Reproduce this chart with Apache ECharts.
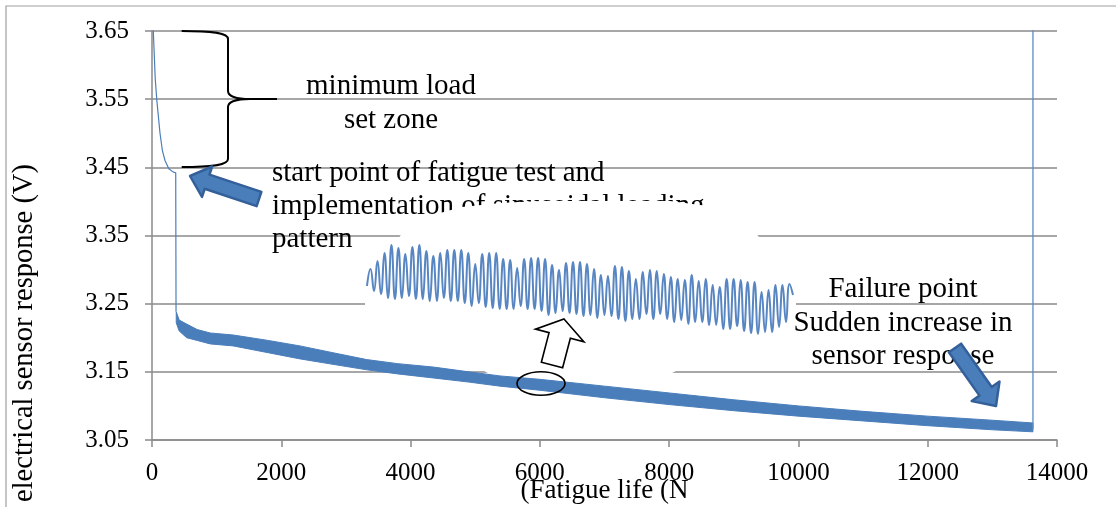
<!DOCTYPE html>
<html><head><meta charset="utf-8">
<script src="https://cdn.jsdelivr.net/npm/echarts@6/dist/echarts.min.js"></script>
<style>html,body{margin:0;padding:0;background:#fff}#c{width:1116px;height:507px}</style>
</head><body><div id="c"></div>
<script>
// ---------- data ----------
// initial settling curve (minimum load set zone), fatigue life (N) vs response (V)
const decayX = [5, 20, 50, 75, 124, 160, 201, 260, 330, 367, 372];
const decayY = [3.75, 3.65, 3.58, 3.548, 3.50, 3.475, 3.46, 3.448, 3.443, 3.442, 3.238];
// sinusoidal loading band: upper / lower envelope of the oscillating signal
const bandX      = [375, 420, 537, 700, 900, 1258, 1800, 2290, 2800, 3321, 3800, 4352, 4900, 5383, 6000, 7000, 8000, 9000, 10000, 11000, 12000, 13000, 13628];
const bandTop    = [3.238, 3.226, 3.220, 3.212, 3.207, 3.204, 3.196, 3.188, 3.178, 3.168, 3.162, 3.157, 3.150, 3.144, 3.139, 3.129, 3.119, 3.109, 3.100, 3.092, 3.085, 3.079, 3.075];
const bandBottom = [3.222, 3.210, 3.200, 3.196, 3.191, 3.188, 3.178, 3.169, 3.161, 3.153, 3.147, 3.141, 3.135, 3.129, 3.123, 3.112, 3.102, 3.093, 3.085, 3.078, 3.071, 3.065, 3.062];
// failure point: sudden increase in sensor response
const failureX = [13628, 13628];
const failureY = [3.066, 3.70];
// zoomed inset of the sinusoidal signal (relative units, peaks and troughs)
const insetSignal = [
  54, 71, 49, 79, 46, 87, 42, 95, 41, 92, 42, 86, 44, 93, 41, 95, 41, 89, 39, 84, 39,
  87, 42, 90, 39, 90, 39, 90, 37, 87, 34, 76, 37, 86, 33, 87, 32, 87, 31, 81, 31,
  80, 31, 72, 34, 81, 31, 82, 31, 82, 29, 81, 25, 75, 27, 70, 29, 77, 27, 78, 26,
  78, 24, 76, 25, 71, 22, 65, 25, 64, 24, 74, 21, 73, 19, 69, 21, 61, 21, 68,
  26, 70, 21, 69, 26, 66, 21, 63, 18, 61, 20, 60, 16, 65, 18, 59, 18, 61, 15, 55,
  15, 53, 11, 61, 11, 61, 14, 60, 9, 58, 7, 58, 6, 48, 8, 50, 8, 55, 13, 55, 18, 56, 45
];
const xAxisTitle = '(Fatigue life (N';
const yAxisTitle = 'electrical sensor response (V)';

// ---------- chart ----------
const FONT = "'Liberation Serif', 'Times New Roman', serif";
const BLUE = '#4A7EBB';
const GRAY = '#8a8a8a';

function blockArrow(tip, tail, headLen, headW, shaftW) {
  const dx = tip[0] - tail[0], dy = tip[1] - tail[1];
  const L = Math.hypot(dx, dy), ux = dx / L, uy = dy / L, nx = -uy, ny = ux;
  const bx = tip[0] - ux * headLen, by = tip[1] - uy * headLen;
  return [tip,
    [bx + nx * headW / 2, by + ny * headW / 2],
    [bx + nx * shaftW / 2, by + ny * shaftW / 2],
    [tail[0] + nx * shaftW / 2, tail[1] + ny * shaftW / 2],
    [tail[0] - nx * shaftW / 2, tail[1] - ny * shaftW / 2],
    [bx - nx * shaftW / 2, by - ny * shaftW / 2],
    [bx - nx * headW / 2, by - ny * headW / 2]];
}
function txt(text, x, y, align, z) {
  return { type: 'text', x: x, y: y, z: z || 1, silent: true,
    style: { text: text, fontSize: 29, fontFamily: FONT, fill: '#000', align: align, verticalAlign: 'middle' } };
}
const braceStyle = { fill: null, stroke: '#000', lineWidth: 2 };
function bez(x1, y1, c1x, c1y, c2x, c2y, x2, y2) {
  return { type: 'bezierCurve', z: 6, silent: true,
    shape: { x1: x1, y1: y1, cpx1: c1x, cpy1: c1y, cpx2: c2x, cpy2: c2y, x2: x2, y2: y2 }, style: braceStyle };
}
function seg(x1, y1, x2, y2) {
  return { type: 'line', z: 6, silent: true, shape: { x1: x1, y1: y1, x2: x2, y2: y2 }, style: braceStyle };
}

const chart = echarts.init(document.getElementById('c'), null, { renderer: 'canvas' });
const zip = (a, b) => a.map((v, i) => [v, b[i]]);

chart.setOption({
  animation: false,
  backgroundColor: '#fff',
  grid: [
    { left: 152, right: 59, top: 31, bottom: 67, outerBoundsMode: 'none' },
    { left: 367, top: 236, width: 426, height: 104, show: false, outerBoundsMode: 'none' }
  ],
  xAxis: [{
    type: 'value', gridIndex: 0, min: 0, max: 14000, interval: 2000,
    name: xAxisTitle, nameLocation: 'middle', nameGap: 37, nameMoveOverlap: false,
    nameTextStyle: { fontSize: 27, fontFamily: FONT, color: '#000' },
    axisLine: { show: true, lineStyle: { color: GRAY, width: 1.5 } },
    axisTick: { show: true, length: 7, lineStyle: { color: GRAY, width: 1.5 } },
    axisLabel: { margin: 21, fontSize: 25, fontFamily: FONT, color: '#000', formatter: v => String(v) },
    splitLine: { show: false }
  }, {
    type: 'category', gridIndex: 1, show: false, boundaryGap: false,
    data: insetSignal.map((_, i) => i)
  }],
  yAxis: [{
    type: 'value', gridIndex: 0, min: 3.05, max: 3.65, interval: 0.1,
    axisLine: { show: true, lineStyle: { color: GRAY, width: 1.5 } },
    axisTick: { show: true, length: 7, lineStyle: { color: GRAY, width: 1.5 } },
    axisLabel: { margin: 23, fontSize: 25, fontFamily: FONT, color: '#000', formatter: v => v.toFixed(2) },
    splitLine: { show: true, lineStyle: { color: GRAY, width: 1.5 } }
  }, {
    type: 'value', gridIndex: 1, show: false, min: 0, max: 104
  }],
  series: [
    { type: 'line', name: 'settling', xAxisIndex: 0, yAxisIndex: 0, z: 4, data: zip(decayX, decayY),
      showSymbol: false, symbol: 'none', lineStyle: { color: BLUE, width: 1.2 } },
    { type: 'custom', name: 'band', xAxisIndex: 0, yAxisIndex: 0, z: 4, data: [[bandX[0], bandTop[0]]],
      renderItem: function (params, api) {
        const up = bandX.map((x, i) => api.coord([x, bandTop[i]]));
        const lo = bandX.map((x, i) => api.coord([x, bandBottom[i]])).reverse();
        return { type: 'polygon', shape: { points: up.concat(lo) },
          style: { fill: BLUE, stroke: BLUE, lineWidth: 1 } };
      } },
    { type: 'line', name: 'failure', xAxisIndex: 0, yAxisIndex: 0, z: 4, data: zip(failureX, failureY),
      symbol: 'none', lineStyle: { color: '#5B8BCB', width: 1.3 } },
    { type: 'line', name: 'inset', xAxisIndex: 1, yAxisIndex: 1, z: 5, data: insetSignal,
      symbol: 'none', smooth: 0.5, lineStyle: { color: '#4F7FBF', width: 2, opacity: 0.95 } }
  ],
  graphic: { elements: [
    // outer frame
    { type: 'rect', z: 0, silent: true, shape: { x: 6, y: 6, width: 1300, height: 700 },
      style: { fill: null, stroke: '#a0a0a0', lineWidth: 1.2 } },
    // y axis title
    { type: 'text', x: 25, y: 333, rotation: Math.PI / 2, z: 1, silent: true,
      style: { text: yAxisTitle, fontSize: 28.5, fontFamily: FONT, fill: '#000', align: 'center', verticalAlign: 'middle' } },
    // brace
    bez(181.7, 31, 214, 31, 228, 33, 228, 39),
    seg(228, 39, 228, 91),
    bez(228, 91, 228, 96, 236, 99, 250, 99),
    seg(250, 99, 277, 99),
    bez(250, 99, 236, 99, 228, 102, 228, 107),
    seg(228, 107, 228, 159),
    bez(228, 159, 228, 165, 214, 167, 181.7, 167),
    txt('minimum load', 391, 86, 'center'),
    txt('set zone', 391, 120, 'center'),
    txt('start point of fatigue test and', 272, 173, 'left'),
    txt('implementation of sinusoidal loading', 272, 206, 'left'),
    txt('pattern', 272, 239, 'left'),
    txt('Failure point', 903, 289, 'center'),
    txt('Sudden increase in', 903, 323, 'center'),
    txt('sensor response', 903, 356, 'center'),
    // white background of the zoomed inset
    { type: 'polygon', z: 3, silent: true,
      shape: { points: [[462, 207], [500, 203], [540, 201], [670, 201], [700, 205], [720, 207], [755, 232], [796, 285], [796, 310], [672, 373], [488, 373], [365, 308], [365, 285], [403, 232], [440, 213]] },
      style: { fill: '#fff', stroke: null } },
    // blue arrow to start point
    { type: 'polygon', z: 7, silent: true,
      shape: { points: blockArrow([190, 176], [259, 199], 18, 32, 15) },
      style: { fill: BLUE, stroke: '#34609A', lineWidth: 2.5, lineJoin: 'round' } },
    // blue arrow to failure point
    { type: 'polygon', z: 7, silent: true,
      shape: { points: blockArrow([996, 406], [955, 348], 18, 34, 15) },
      style: { fill: BLUE, stroke: '#34609A', lineWidth: 2.5, lineJoin: 'round' } },
    // white arrow from the circled region to the inset
    { type: 'polygon', z: 7, silent: true,
      shape: { points: blockArrow([564, 319], [552, 365], 17, 50, 22) },
      style: { fill: '#fff', stroke: '#000', lineWidth: 1.6 } },
    // ellipse around the zoomed region
    { type: 'ellipse', z: 7, silent: true, shape: { cx: 541, cy: 383.5, rx: 24, ry: 11.7 },
      style: { fill: null, stroke: '#000', lineWidth: 1.6 } }
  ] }
});
</script>
</body></html>
